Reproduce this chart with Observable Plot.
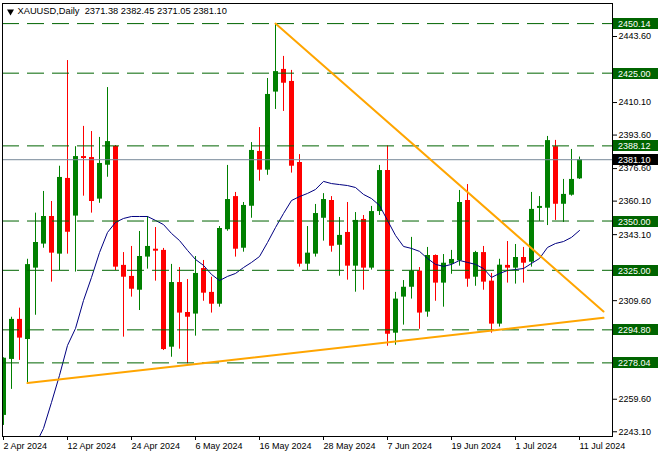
<!DOCTYPE html>
<html><head><meta charset="utf-8">
<script src="https://cdn.jsdelivr.net/npm/d3@7"></script>
<script src="https://cdn.jsdelivr.net/npm/@observablehq/plot@0.6"></script>
<style>body{margin:0;background:#fff;}</style>
</head><body><div id="chart"></div>
<script>
// ---- data ----
const symbol = "XAUUSD,Daily";
const dates = [
"2024-04-02","2024-04-03","2024-04-04","2024-04-05","2024-04-08","2024-04-09","2024-04-10","2024-04-11","2024-04-12",
"2024-04-15","2024-04-16","2024-04-17","2024-04-18","2024-04-19","2024-04-22","2024-04-23","2024-04-24","2024-04-25","2024-04-26",
"2024-04-29","2024-04-30","2024-05-01","2024-05-02","2024-05-03","2024-05-06","2024-05-07","2024-05-08","2024-05-09","2024-05-10",
"2024-05-13","2024-05-14","2024-05-15","2024-05-16","2024-05-17","2024-05-20","2024-05-21","2024-05-22","2024-05-23","2024-05-24",
"2024-05-27","2024-05-28","2024-05-29","2024-05-30","2024-05-31","2024-06-03","2024-06-04","2024-06-05","2024-06-06","2024-06-07",
"2024-06-10","2024-06-11","2024-06-12","2024-06-13","2024-06-14","2024-06-17","2024-06-18","2024-06-19","2024-06-20","2024-06-21",
"2024-06-24","2024-06-25","2024-06-26","2024-06-27","2024-06-28","2024-07-01","2024-07-02","2024-07-03","2024-07-04","2024-07-05",
"2024-07-08","2024-07-09","2024-07-10","2024-07-11"];
const open = [2251.4,2279.8,2300.1,2289.9,2326.1,2338.3,2352.3,2333.2,2371.6,
2352.5,2382.7,2382.2,2361.1,2378.3,2387.8,2327.5,2321.9,2314.9,2331.7,
2335.7,2335.1,2286.0,2318.8,2303.6,2302.8,2325.9,2313.8,2307.8,2345.6,
2362.4,2336.2,2357.5,2385.3,2375.8,2415.4,2426.9,2420.8,2379.7,2328.1,
2333.2,2351.4,2360.4,2337.7,2344.2,2327.1,2350.8,2326.1,2354.8,2375.6,
2293.1,2311.4,2316.4,2324.6,2303.8,2332.5,2318.5,2328.1,2329.8,2360.4,
2321.5,2334.0,2319.5,2297.7,2327.5,2326.1,2331.5,2329.1,2356.4,2356.5,
2387.7,2358.5,2363.1,2371.38];
const high = [2280.6,2301.2,2305.8,2330.6,2354.0,2365.0,2359.9,2377.8,2431.4,
2387.7,2398.0,2395.4,2392.4,2417.7,2388.3,2334.0,2337.1,2344.7,2352.3,
2346.7,2336.1,2328.0,2326.4,2320.3,2332.0,2330.0,2321.5,2347.2,2378.2,
2364.5,2359.4,2389.8,2397.4,2422.3,2450.14,2433.5,2426.4,2383.7,2347.2,
2358.4,2363.9,2362.4,2351.8,2359.4,2354.3,2352.8,2357.4,2378.2,2388.12,
2313.8,2319.8,2341.7,2326.4,2336.6,2332.8,2333.0,2335.1,2365.5,2368.5,
2334.6,2337.1,2323.4,2330.6,2339.6,2338.1,2336.6,2364.5,2362.4,2392.9,
2390.9,2371.1,2386.3,2382.45];
const low = [2246.3,2264.6,2279.3,2267.8,2302.2,2336.2,2319.0,2324.9,2333.2,
2324.1,2362.6,2354.0,2359.0,2372.2,2324.9,2291.1,2311.4,2304.6,2325.6,
2319.5,2284.3,2280.9,2285.0,2277.6,2291.6,2309.3,2303.3,2306.3,2344.8,
2331.7,2334.2,2351.4,2370.2,2373.2,2406.6,2405.6,2374.3,2326.6,2324.9,
2331.7,2339.8,2334.2,2322.0,2320.0,2313.9,2314.9,2325.1,2352.8,2286.5,
2287.0,2297.2,2310.4,2295.1,2301.2,2309.3,2306.3,2323.0,2327.1,2316.4,
2316.9,2314.9,2293.1,2296.2,2318.5,2318.0,2318.5,2326.6,2349.8,2347.7,
2350.3,2349.3,2362.6,2371.05];
const close = [2280.4,2300.1,2290.6,2327.9,2339.1,2352.3,2333.7,2372.1,2344.3,
2382.7,2381.7,2359.9,2379.2,2390.3,2326.6,2321.5,2315.4,2332.0,2337.1,
2334.7,2284.8,2318.8,2303.3,2301.2,2323.4,2313.4,2307.8,2346.2,2360.9,
2335.7,2357.9,2385.8,2375.8,2414.2,2425.8,2419.9,2377.8,2328.1,2333.7,
2353.8,2360.9,2337.2,2342.7,2327.1,2350.3,2326.1,2354.8,2375.6,2292.6,
2310.4,2316.4,2324.6,2303.3,2332.5,2318.5,2328.6,2330.5,2359.4,2320.5,
2334.0,2319.0,2297.7,2327.6,2326.1,2331.5,2328.6,2355.9,2357.4,2390.8,
2358.5,2363.5,2371.1,2381.10];
// moving average as drawn (null where not shown)
const movingAvg = [null,null,null,null,2236.6,2244.8,2258.0,2271.7,2286.9,
2295.5,2309.7,2321.4,2334.0,2344.2,2349.3,2351.3,2352.3,2352.3,2352.3,
2350.3,2348.2,2343.7,2340.1,2335.1,2330.5,2327.5,2322.9,2319.8,2321.9,
2323.4,2326.4,2329.0,2332.0,2339.1,2346.7,2353.8,2360.4,2362.4,2364.0,
2366.0,2370.1,2369.0,2368.5,2368.0,2367.0,2363.5,2361.4,2357.9,2350.3,
2342.7,2337.1,2336.1,2334.6,2331.0,2328.0,2327.0,2328.0,2330.0,2329.0,
2328.0,2325.9,2321.4,2323.4,2324.9,2325.4,2325.9,2328.5,2331.0,2336.6,
2338.6,2339.6,2341.7,2345.2];
const levels = [2450.14, 2425.00, 2388.12, 2350.00, 2325.00, 2294.80, 2278.04];
const currentPrice = 2381.10;
// price-scale ticks that stay readable (the others sit under the level tags)
const yTicks = [2443.60, 2410.10, 2393.60, 2376.60, 2360.10, 2343.10, 2309.60, 2259.60, 2243.10];
const xTickDates = ["2024-04-02","2024-04-12","2024-04-24","2024-05-06","2024-05-16","2024-05-28","2024-06-07","2024-06-19","2024-07-01","2024-07-11"];
// trend lines: bar index and price of end points
const supportBars = [3, 75];
const supportPrices = [2267.8, 2300.9];
const resistBars = [34, 75];
const resistPrices = [2450.14, 2304.1];

// ---- build ----
const FONT = "Liberation Sans, Arial, sans-serif";
const rows = dates.map((d, i) => ({i, o: open[i], h: high[i], l: low[i], c: close[i],
  col: close[i] >= open[i] ? "#008000" : "#ff0000"}));
const maRows = movingAvg.map((v, i) => ({i, v})).filter(d => d.v != null);
const support = supportBars.map((b, k) => ({i: b, p: supportPrices[k]}));
const resist = resistBars.map((b, k) => ({i: b, p: resistPrices[k]}));
const tickIdx = xTickDates.map(d => dates.indexOf(d));
const fmtDate = d3.utcFormat("%-d %b %Y");
const last = rows[rows.length - 1];
const title = `${symbol}  ${last.o.toFixed(2)} ${last.h.toFixed(2)} ${last.l.toFixed(2)} ${last.c.toFixed(2)}`;

function priceTags(values, fill) {
  return (index, scales, chans, dims) => {
    const g = d3.create("svg:g");
    const x0 = dims.width - dims.marginRight + 1;
    for (const v of values) {
      const y = Math.round(scales.y(v));
      g.append("rect").attr("x", x0).attr("y", y - 5).attr("width", dims.width - x0).attr("height", 11).attr("fill", fill);
      g.append("text").attr("x", x0 + 5).attr("y", y + 0.5).attr("dy", "0.35em")
        .attr("text-anchor", "start")
        .attr("fill", "white").attr("font-family", FONT).attr("font-size", 9).text(v.toFixed(2));
    }
    return g.node();
  };
}

const chart = Plot.plot({
  width: 658, height: 456,
  marginLeft: 2, marginRight: 46, marginTop: 3, marginBottom: 20,
  style: {fontFamily: FONT, fontSize: "9px", background: "white", color: "black"},
  x: {type: "linear", domain: [-0.125, 76.125], axis: null},
  y: {domain: [2240.7, 2460.34], axis: null},
  color: {type: "identity"},
  marks: [
    Plot.ruleX(rows, {x: "i", y1: "l", y2: "h", stroke: "col", clip: true}),
    Plot.ruleX(rows, {x: "i", y1: "o", y2: "c", stroke: "col", strokeWidth: 5, clip: true}),
    Plot.line(maRows, {x: "i", y: "v", stroke: "#000080", strokeWidth: 1, clip: true}),
    Plot.ruleY(levels, {stroke: "#006400", strokeDasharray: "17,8"}),
    Plot.ruleY([currentPrice], {stroke: "#778899"}),
    Plot.line(support, {x: "i", y: "p", stroke: "#ffa500", strokeWidth: 2, clip: true}),
    Plot.line(resist, {x: "i", y: "p", stroke: "#ffa500", strokeWidth: 2, clip: true}),
    Plot.frame({stroke: "black"}),
    Plot.axisY(yTicks, {anchor: "right", tickSize: 4, tickPadding: 2, tickFormat: d => d.toFixed(2), label: null}),
    Plot.axisX(tickIdx, {anchor: "bottom", tickSize: 4, tickPadding: 2, tickFormat: i => fmtDate(new Date(dates[i])), textAnchor: "start", label: null}),
    priceTags(levels, "#006400"),
    priceTags([currentPrice], "#000000"),
    Plot.dot([0], {frameAnchor: "top-left", symbol: "triangle", r: 2.6, rotate: 180, fill: "black", stroke: null, dx: 8, dy: 8}),
    Plot.text([title], {frameAnchor: "top-left", dx: 15, dy: 4, textAnchor: "start", lineAnchor: "top", fontSize: 9.3, fill: "black"})
  ]
});
document.getElementById("chart").appendChild(chart);
</script>
</body></html>
